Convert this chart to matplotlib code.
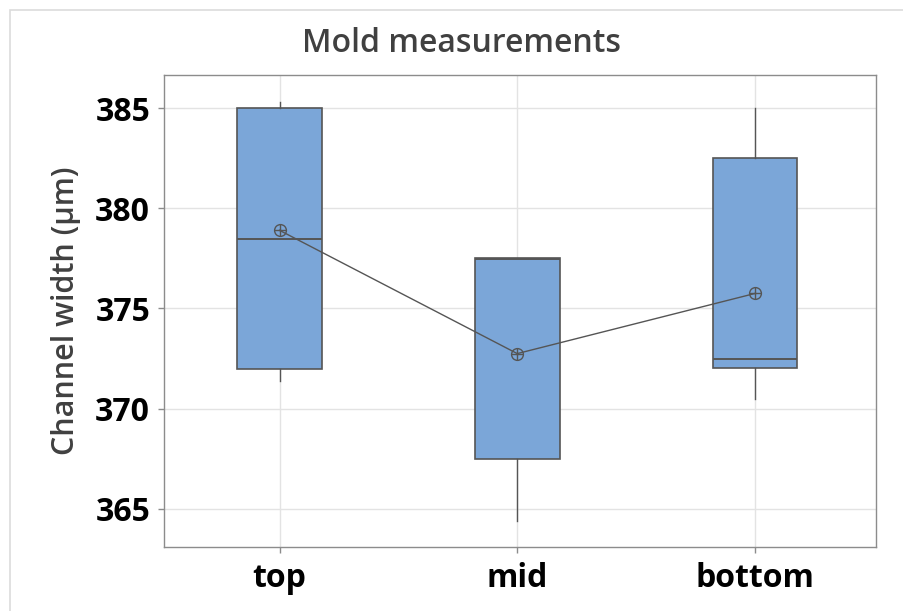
import matplotlib
matplotlib.use("Agg")
import matplotlib.pyplot as plt
from matplotlib.patches import Rectangle

plt.rcParams['font.family'] = ['Open Sans', 'DejaVu Sans']

# per-position summary stats (µm)
positions = ['top', 'mid', 'bottom']
whisker_low = [371.4, 364.4, 370.5]
q1 = [372.0, 367.5, 372.05]
medians = [378.45, 377.45, 372.5]
q3 = [385.0, 377.5, 382.5]
whisker_high = [385.3, 377.5, 385.0]
means = [378.9, 372.75, 375.75]

box_color = '#7ba6d8'
edge = '#555555'

fig = plt.figure(figsize=(9.04, 6.11), dpi=100)
ax = fig.add_axes([0.1814, 0.1047, 0.7876, 0.7726])

# light outer frame
fig.patches.append(Rectangle((10 / 904, -0.1), 1.2, 1 - 10 / 611 + 0.1,
                             transform=fig.transFigure, fill=False,
                             edgecolor='#dcdcdc', linewidth=1.2))

stats = []
for i, name in enumerate(positions):
    stats.append(dict(label=name, whislo=whisker_low[i], q1=q1[i], med=medians[i],
                      q3=q3[i], whishi=whisker_high[i], mean=means[i], fliers=[]))

xs = list(range(1, len(positions) + 1))
ax.bxp(stats, positions=xs, widths=0.357, patch_artist=True, showcaps=False,
       showmeans=False,
       boxprops=dict(facecolor=box_color, edgecolor=edge, linewidth=1.2),
       medianprops=dict(color=edge, linewidth=1.4),
       whiskerprops=dict(color=edge, linewidth=1.0),
       zorder=3)

# mean connect line with circle-cross symbols
ax.plot(xs, means, color=edge, linewidth=1.0, zorder=4)
ax.plot(xs, means, linestyle='none', marker='o', markersize=8.5,
        markerfacecolor='none', markeredgecolor=edge, markeredgewidth=1.0, zorder=5)
ax.plot(xs, means, linestyle='none', marker='+', markersize=8.5,
        markeredgecolor=edge, markeredgewidth=1.0, zorder=5)

ax.set_xlim(0.514, 3.509)
ax.set_ylim(363.1, 386.65)
ax.set_yticks([365, 370, 375, 380, 385])
ax.set_xticks(xs)
ax.set_xticklabels(positions)

ax.grid(True, color='#e3e3e3', linewidth=1.0, zorder=0)
ax.set_axisbelow(True)
for s in ax.spines.values():
    s.set_color('#8c8c8c')
    s.set_linewidth(1.0)
ax.tick_params(axis='both', colors='#8c8c8c', length=4, width=1.0,
               labelcolor='black', labelsize=23)
for lab in ax.get_xticklabels() + ax.get_yticklabels():
    lab.set_fontweight('bold')
ax.tick_params(axis='x', pad=7)
ax.tick_params(axis='y', pad=6)

ax.set_ylabel('Channel width (µm)', fontsize=22, color='#404040',
              fontweight='semibold', labelpad=10)
# title sits centred on the whole framed page, not on the axes
fig.text(462 / 904, 1 - 44 / 611, 'Mold measurements', fontsize=23,
         color='#404040', fontweight='semibold', ha='center', va='center')

fig.savefig('out.png', dpi=100)
